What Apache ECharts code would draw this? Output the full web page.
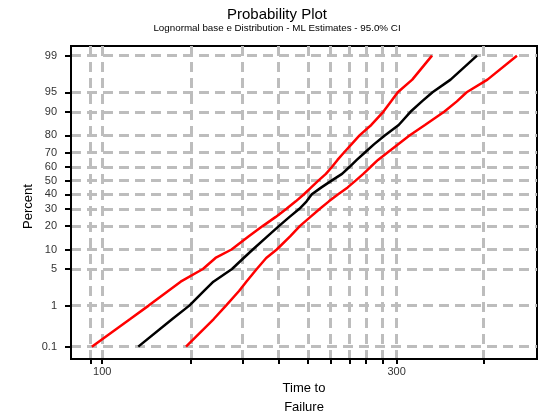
<!DOCTYPE html>
<html>
<head>
<meta charset="utf-8">
<script src="https://cdn.jsdelivr.net/npm/echarts@6/dist/echarts.min.js"></script>
<style>
  html, body { margin: 0; padding: 0; background: #fff; }
  #chart { width: 540px; height: 415px; }
</style>
</head>
<body>
<div id="chart"></div>
<script>
// percent levels at which the three lines were read
const percents = [0.1, 0.5, 1, 2, 3, 5, 7.5, 10, 15, 20, 25, 30, 35, 40, 45, 50, 55, 60, 65, 70, 75, 80, 85, 90, 93, 95, 97, 99];
// time to failure at each percent level
const lowerTimes = [96.2, 111.0, 118.9, 127.9, 134.0, 145.6, 152.6, 162.0, 172.8, 182.2, 191.1, 198.9, 205.9, 212.3, 218.1, 224.0, 230.4, 235.6, 240.6, 246.5, 253.4, 261.2, 272.9, 285.4, 293.9, 301.3, 318.0, 342.3];
const fitTimes = [114.4, 129.9, 138.4, 146.2, 151.4, 162.3, 169.5, 175.4, 185.2, 193.5, 201.2, 208.7, 214.4, 218.6, 226.6, 235.3, 244.7, 251.5, 258.5, 266.5, 275.6, 287.0, 302.3, 315.9, 329.7, 343.0, 366.9, 404.9];
const upperTimes = [136.7, 151.6, 158.7, 166.6, 171.2, 178.0, 184.4, 191.8, 201.6, 209.2, 217.5, 225.3, 233.0, 241.2, 249.9, 257.4, 264.9, 272.1, 279.8, 290.0, 301.4, 314.7, 333.4, 358.2, 375.6, 389.6, 421.0, 470.0];

// axes
const percentTicks = [0.1, 1, 5, 10, 20, 30, 40, 50, 60, 70, 80, 90, 95, 99];
const percentRange = [0.045, 99.39];
const timeGrid = [95.8, 100, 139.2, 168.9, 193.2, 215.7, 234.5, 251.4, 267.5, 284.7, 300, 414.5];
const timeLabels = [100, 300];
const timeRange = [89, 506.5];

// inverse normal cdf (Acklam), used for the probability scale
function probit(p) {
  const a = [-3.969683028665376e+01, 2.209460984245205e+02, -2.759285104469687e+02, 1.383577518672690e+02, -3.066479806614716e+01, 2.506628277459239e+00];
  const b = [-5.447609879822406e+01, 1.615858368580409e+02, -1.556989798598866e+02, 6.680131188771972e+01, -1.328068155288572e+01];
  const c = [-7.784894002430293e-03, -3.223964580411365e-01, -2.400758277161838e+00, -2.549732539343734e+00, 4.374664141464968e+00, 2.938163982698783e+00];
  const d = [7.784695709041462e-03, 3.224671290700398e-01, 2.445134137142996e+00, 3.754408661907416e+00];
  const pl = 0.02425;
  let q, r;
  if (p < pl) {
    q = Math.sqrt(-2 * Math.log(p));
    return (((((c[0] * q + c[1]) * q + c[2]) * q + c[3]) * q + c[4]) * q + c[5]) / ((((d[0] * q + d[1]) * q + d[2]) * q + d[3]) * q + 1);
  }
  if (p > 1 - pl) {
    q = Math.sqrt(-2 * Math.log(1 - p));
    return -(((((c[0] * q + c[1]) * q + c[2]) * q + c[3]) * q + c[4]) * q + c[5]) / ((((d[0] * q + d[1]) * q + d[2]) * q + d[3]) * q + 1);
  }
  q = p - 0.5;
  r = q * q;
  return (((((a[0] * r + a[1]) * r + a[2]) * r + a[3]) * r + a[4]) * r + a[5]) * q / (((((b[0] * r + b[1]) * r + b[2]) * r + b[3]) * r + b[4]) * r + 1);
}

const z = (pct) => probit(pct / 100);
const lg = (t) => Math.log10(t);
const toPoints = (times) => times.map((t, i) => [lg(t), z(percents[i])]);

const font = '"Liberation Sans", Arial, sans-serif';
const gridStyle = { color: '#bdbdbd', width: 3, type: [10, 6] };

const chart = echarts.init(document.getElementById('chart'), null, { renderer: 'canvas' });

chart.setOption({
  animation: false,
  backgroundColor: '#fff',
  title: {
    text: 'Probability Plot',
    subtext: 'Lognormal base e Distribution - ML Estimates - 95.0% CI',
    left: 272,
    top: 2,
    textAlign: 'center',
    itemGap: 1,
    textStyle: { fontFamily: font, fontSize: 15, fontWeight: 'normal', color: '#000' },
    subtextStyle: { fontFamily: font, fontSize: 9.8, color: '#000' },
  },
  grid: {
    left: 71,
    right: 3,
    top: 46,
    bottom: 56,
    outerBoundsMode: 'none',
    show: true,
    borderColor: '#000',
    borderWidth: 2,
  },
  xAxis: {
    type: 'value',
    min: lg(timeRange[0]),
    max: lg(timeRange[1]),
    name: 'Time to\nFailure',
    nameLocation: 'middle',
    nameGap: 20,
    nameMoveOverlap: false,
    nameTextStyle: { fontFamily: font, fontSize: 13, color: '#000', lineHeight: 19 },
    axisLine: { onZero: false, lineStyle: { color: '#000', width: 2 } },
    axisTick: { customValues: timeGrid.map(lg), length: 5, lineStyle: { color: '#000', width: 2 } },
    axisLabel: {
      customValues: timeLabels.map(lg),
      margin: 7,
      fontFamily: font,
      fontSize: 11,
      color: '#333',
      formatter: (v) => String(Math.round(Math.pow(10, v))),
    },
    splitLine: { show: true, lineStyle: gridStyle },
  },
  yAxis: {
    type: 'value',
    min: z(percentRange[0]),
    max: z(percentRange[1]),
    name: 'Percent',
    nameLocation: 'middle',
    nameGap: 36,
    nameMoveOverlap: false,
    nameTextStyle: { fontFamily: font, fontSize: 13, color: '#000', padding: [0, 8, 0, 0] },
    axisLine: { onZero: false, lineStyle: { color: '#000', width: 2 } },
    axisTick: { customValues: percentTicks.map(z), length: 6, lineStyle: { color: '#000', width: 2 } },
    axisLabel: {
      customValues: percentTicks.map(z),
      margin: 14,
      fontFamily: font,
      fontSize: 11,
      color: '#333',
      formatter: (v) => {
        const i = percentTicks.findIndex((p) => Math.abs(z(p) - v) < 1e-6);
        return i < 0 ? '' : String(percentTicks[i]);
      },
    },
    splitLine: { show: true, lineStyle: gridStyle },
  },
  series: [
    {
      name: 'Lower bound',
      type: 'line',
      data: toPoints(lowerTimes),
      showSymbol: false,
      lineStyle: { color: '#ff0000', width: 2.5 },
    },
    {
      name: 'Upper bound',
      type: 'line',
      data: toPoints(upperTimes),
      showSymbol: false,
      lineStyle: { color: '#ff0000', width: 2.5 },
    },
    {
      name: 'Fit',
      type: 'line',
      data: toPoints(fitTimes),
      showSymbol: false,
      lineStyle: { color: '#000', width: 2.5 },
    },
  ],
});
</script>
</body>
</html>
